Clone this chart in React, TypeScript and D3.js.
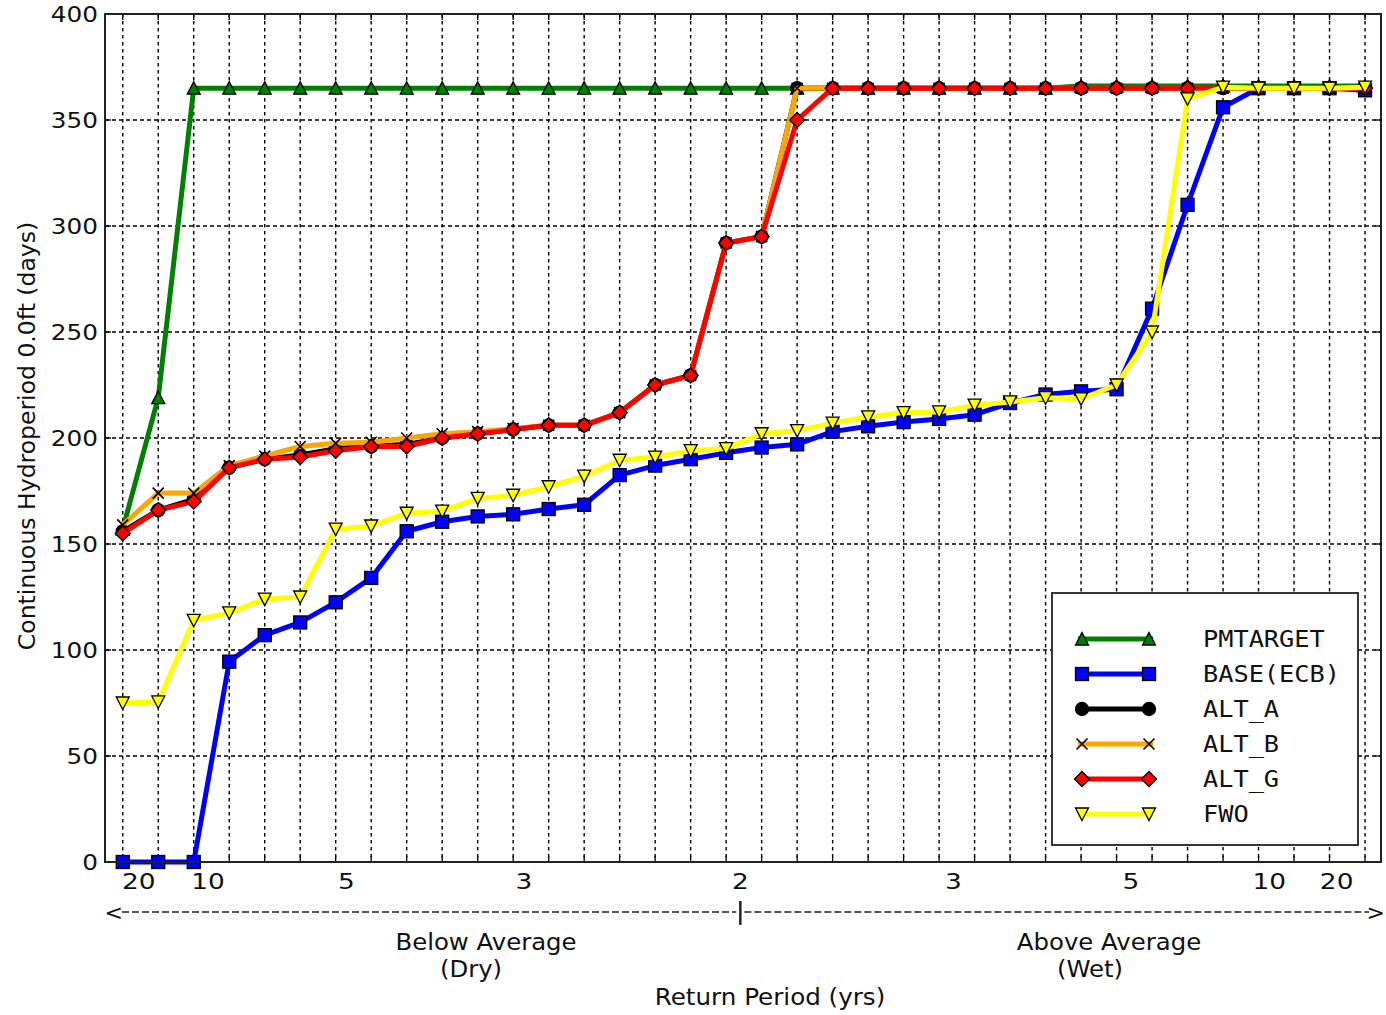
import React, { useRef, useEffect } from 'react';
import * as d3 from 'd3';

// values, one per ranked year (36 points)
const pmTarget = [157, 219, 365, 365, 365, 365, 365, 365, 365, 365, 365, 365, 365, 365, 365, 365, 365, 365,
  365, 365, 365, 365, 365, 365, 365, 365, 365, 366, 366, 366, 366, 366, 366, 366, 366, 366];
const baseEcb = [0, 0, 0, 94.5, 107, 113, 122.5, 134, 156, 160.5, 163, 164, 166.5, 168.5, 182.5, 187, 190, 193,
  195.5, 197, 203, 205.5, 207.5, 209, 211, 216.5, 220.5, 222, 223, 261, 310, 356, 365, 365, 365, 364];
const altA = [156, 166, 171, 186, 190, 192, 195, 196, 197, 200, 202, 204, 206, 206, 212, 225, 229.5, 292,
  295, 365, 365, 365, 365, 365, 365, 365, 365, 365, 365, 365, 365, 365, 365, 365, 365, 365];
const altB = [159, 174, 174, 187, 191.5, 196, 197.5, 198, 200, 202, 203, 204.5, 206, 206, 212, 225, 229.5, 292,
  295, 365, 365, 365, 365, 365, 365, 365, 365, 365, 365, 365, 365, 365, 365, 365, 365, 365];
const altG = [155, 166, 170, 186, 190, 191, 194, 196, 196, 200, 202, 204, 206, 206, 212, 225, 229.5, 292,
  295, 350, 365, 365, 365, 365, 365, 365, 365, 365, 365, 365, 365, 365.5, 365, 365, 365, 365];
const fwo = [75, 75.5, 114, 117.5, 124, 125, 157, 158.5, 164.5, 165.5, 171.5, 173, 177, 182, 189.5, 191, 194, 195,
  202, 203.5, 207, 210, 212, 212.3, 215.5, 217, 219, 218.5, 225, 250, 360, 365.5, 365, 365, 365, 365.5];

const seriesNames = ['PMTARGET', 'BASE(ECB)', 'ALT_A', 'ALT_B', 'ALT_G', 'FWO'];
const seriesValues = [pmTarget, baseEcb, altA, altB, altG, fwo];
const seriesColors = ['#008000', '#0000ff', '#000000', '#ffa500', '#ff0000', '#ffff00'];
const seriesMarkers = ['triUp', 'square', 'circle', 'x', 'diamond', 'triDown'];

const yTicks = [0, 50, 100, 150, 200, 250, 300, 350, 400];
// return period labels and where they sit along the ranked-year axis
const returnLabels = ['20', '10', '5', '3', '2', '3', '5', '10', '20'];
const returnAt = [0.45, 2.4, 6.3, 11.3, 17.4, 23.4, 28.4, 32.3, 34.2];

const FONT = 'DejaVu Sans, Bitstream Vera Sans, sans-serif';
const MONO = 'DejaVu Sans Mono, monospace';

const drawMarker = (g, type, x, y, color) => {
  if (type === 'circle') {
    g.append('circle').attr('cx', x).attr('cy', y).attr('r', 6.5)
      .attr('fill', color).attr('stroke', '#000').attr('stroke-width', 1.3);
  } else if (type === 'square') {
    g.append('rect').attr('x', x - 6.5).attr('y', y - 6.5).attr('width', 13).attr('height', 13)
      .attr('fill', color).attr('stroke', '#000').attr('stroke-width', 1.3);
  } else if (type === 'diamond') {
    g.append('path').attr('d', `M${x},${y - 7.5}L${x + 7.5},${y}L${x},${y + 7.5}L${x - 7.5},${y}Z`)
      .attr('fill', color).attr('stroke', '#000').attr('stroke-width', 1.3);
  } else if (type === 'triUp') {
    g.append('path').attr('d', `M${x},${y - 6.5}L${x + 6.5},${y + 6}L${x - 6.5},${y + 6}Z`)
      .attr('fill', color).attr('stroke', '#000').attr('stroke-width', 1.3);
  } else if (type === 'triDown') {
    g.append('path').attr('d', `M${x},${y + 6.5}L${x + 6.5},${y - 6}L${x - 6.5},${y - 6}Z`)
      .attr('fill', color).attr('stroke', '#000').attr('stroke-width', 1.3);
  } else if (type === 'x') {
    g.append('path').attr('d', `M${x - 5.5},${y - 5.5}L${x + 5.5},${y + 5.5}M${x - 5.5},${y + 5.5}L${x + 5.5},${y - 5.5}`)
      .attr('fill', 'none').attr('stroke', '#000').attr('stroke-width', 1.6);
  }
};

// text that is a bit wider than DejaVu, like the source rendering
const addText = (g, x, y, str, { size = 22, anchor = 'middle', sx = 1.08, font = FONT } = {}) => {
  g.append('text')
    .attr('transform', `translate(${x},${y}) scale(${sx},1)`)
    .attr('text-anchor', anchor)
    .attr('font-family', font)
    .attr('font-size', size)
    .attr('fill', '#111')
    .text(str);
};

const HydroperiodChart = ({ width, height }) => {
  const svgRef = useRef();

  useEffect(() => {
    const svg = d3.select(svgRef.current);
    svg.selectAll('*').remove();

    const margin = { top: 14, right: 5, bottom: 153, left: 105 };
    const innerWidth = width - margin.left - margin.right;
    const innerHeight = height - margin.top - margin.bottom;

    const n = pmTarget.length;
    const xScale = d3.scaleLinear().domain([-0.5, n - 0.55]).range([0, innerWidth]);
    const yScale = d3.scaleLinear().domain([0, 400]).range([innerHeight, 0]);

    const g = svg.append('g')
      .attr('transform', `translate(${margin.left}, ${margin.top})`);

    // grid
    const idx = d3.range(n);
    g.selectAll('.vgrid').data(idx).join('line')
      .attr('x1', d => xScale(d)).attr('x2', d => xScale(d))
      .attr('y1', 0).attr('y2', innerHeight)
      .attr('stroke', '#000').attr('stroke-width', 1.4).attr('stroke-dasharray', '3.5,3.5');
    g.selectAll('.hgrid').data(yTicks.slice(1, -1)).join('line')
      .attr('x1', 0).attr('x2', innerWidth)
      .attr('y1', d => yScale(d)).attr('y2', d => yScale(d))
      .attr('stroke', '#000').attr('stroke-width', 1.4).attr('stroke-dasharray', '4,3');

    // inward ticks
    idx.forEach(d => {
      g.append('line').attr('x1', xScale(d)).attr('x2', xScale(d)).attr('y1', innerHeight).attr('y2', innerHeight - 6)
        .attr('stroke', '#000').attr('stroke-width', 1.3);
      g.append('line').attr('x1', xScale(d)).attr('x2', xScale(d)).attr('y1', 0).attr('y2', 6)
        .attr('stroke', '#000').attr('stroke-width', 1.3);
    });
    yTicks.forEach(d => {
      g.append('line').attr('x1', 0).attr('x2', 6).attr('y1', yScale(d)).attr('y2', yScale(d))
        .attr('stroke', '#000').attr('stroke-width', 1.3);
      g.append('line').attr('x1', innerWidth).attr('x2', innerWidth - 6).attr('y1', yScale(d)).attr('y2', yScale(d))
        .attr('stroke', '#000').attr('stroke-width', 1.3);
      addText(g, -7, yScale(d) + 8, String(d), { size: 21.5, anchor: 'end', sx: 1.15 });
    });

    // series lines, then markers, in plotting order
    const line = d3.line().x((d, i) => xScale(i)).y(d => yScale(d));
    seriesValues.forEach((vals, s) => {
      const sg = g.append('g');
      sg.append('path').datum(vals).attr('d', line)
        .attr('fill', 'none').attr('stroke', seriesColors[s]).attr('stroke-width', 5)
        .attr('stroke-linejoin', 'round');
      vals.forEach((v, i) => drawMarker(sg, seriesMarkers[s], xScale(i), yScale(v), seriesColors[s]));
    });

    // frame
    g.append('rect').attr('width', innerWidth).attr('height', innerHeight)
      .attr('fill', 'none').attr('stroke', '#222').attr('stroke-width', 2);

    // x tick labels (return period)
    returnLabels.forEach((lab, i) => {
      addText(g, xScale(returnAt[i]), innerHeight + 27, lab, { size: 22, sx: 1.2 });
    });

    // dry / wet arrow
    const ay = innerHeight + 50;
    const midX = xScale(returnAt[4]);
    addText(g, -0.5, ay + 8, '<', { size: 22, anchor: 'start', sx: 1 });
    addText(g, innerWidth + 4, ay + 8, '>', { size: 22, anchor: 'end', sx: 1 });
    g.append('line').attr('x1', 17).attr('x2', midX - 4).attr('y1', ay).attr('y2', ay)
      .attr('stroke', '#222').attr('stroke-width', 1.6).attr('stroke-dasharray', '7,3');
    g.append('line').attr('x1', midX + 4).attr('x2', innerWidth - 12).attr('y1', ay).attr('y2', ay)
      .attr('stroke', '#222').attr('stroke-width', 1.6).attr('stroke-dasharray', '7,3');
    g.append('line').attr('x1', midX).attr('x2', midX).attr('y1', ay - 11).attr('y2', ay + 13)
      .attr('stroke', '#222').attr('stroke-width', 2.5);

    addText(g, 381, innerHeight + 88, 'Below Average', { size: 23, sx: 1.06 });
    addText(g, 366, innerHeight + 115, '(Dry)', { size: 23, sx: 1.06 });
    addText(g, 1004, innerHeight + 88, 'Above Average', { size: 23, sx: 1.06 });
    addText(g, 985, innerHeight + 115, '(Wet)', { size: 23, sx: 1.06 });
    addText(g, 665, innerHeight + 143, 'Return Period (yrs)', { size: 23, sx: 1.07 });

    // y label
    svg.append('text')
      .attr('transform', `translate(35, 436) rotate(-90)`)
      .attr('text-anchor', 'middle')
      .attr('font-family', FONT)
      .attr('font-size', 23.5)
      .attr('fill', '#111')
      .text('Continuous Hydroperiod 0.0ft (days)');

    // legend
    const legend = svg.append('g').attr('transform', 'translate(1052, 593)');
    legend.append('rect').attr('width', 306).attr('height', 252)
      .attr('fill', '#fff').attr('stroke', '#222').attr('stroke-width', 1.8);
    seriesNames.forEach((name, s) => {
      const ly = 46 + s * 35;
      legend.append('line').attr('x1', 26).attr('x2', 101).attr('y1', ly).attr('y2', ly)
        .attr('stroke', seriesColors[s]).attr('stroke-width', 5);
      drawMarker(legend, seriesMarkers[s], 30, ly, seriesColors[s]);
      drawMarker(legend, seriesMarkers[s], 97, ly, seriesColors[s]);
      addText(legend, 151, ly + 8, name, { size: 23, anchor: 'start', sx: 1.1, font: MONO });
    });
  }, [width, height]);

  return (
    <svg ref={svgRef} width={width} height={height}
      style={{ position: 'absolute', left: 0, top: 0, background: '#fff' }}></svg>
  );
};

export default function App() {
  return <HydroperiodChart width={1386} height={1015} />;
}
